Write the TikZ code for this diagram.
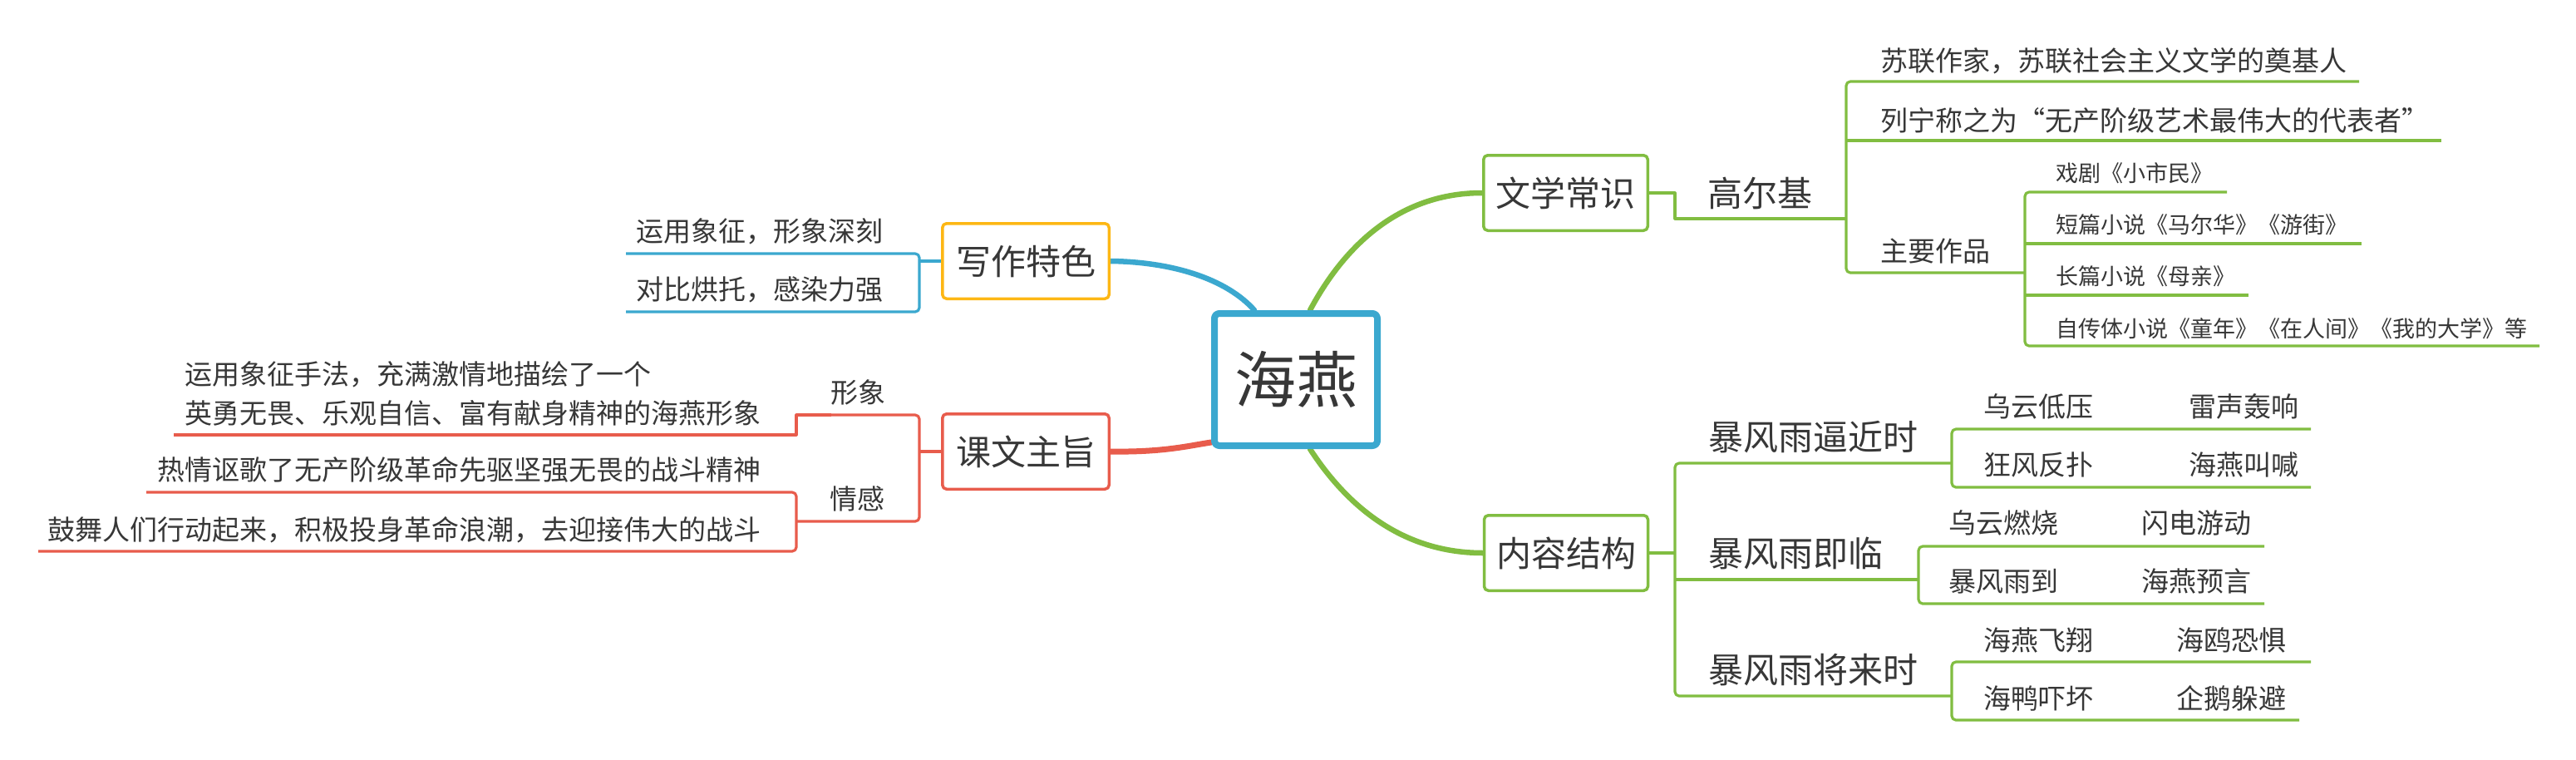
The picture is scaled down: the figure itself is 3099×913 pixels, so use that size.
\documentclass[tikz,border=0pt]{standalone}
\usepackage{fontspec}
\setmainfont{Noto Sans CJK SC}
\usetikzlibrary{backgrounds}
\definecolor{cblue}{RGB}{59,168,207}
\definecolor{corange}{RGB}{253,183,20}
\definecolor{cred}{RGB}{232,92,76}
\definecolor{cgreen}{RGB}{129,189,65}
\definecolor{ctext}{RGB}{55,55,55}
\begin{document}
\begin{tikzpicture}[x=1pt,y=-1pt,line join=round,
  thin/.style={line width=3.2pt,rounded corners=5pt},
  lb/.style={thin,draw=cblue},
  lr/.style={thin,draw=cred},
  lg/.style={thin,draw=cgreen},
  curve/.style={line width=6.5pt,line cap=round},
  tbase/.style={text=ctext,inner sep=0pt,anchor=base west},
  t33/.style={tbase,font=\fontsize{33}{40}\selectfont,yshift=-12.5pt},
  t27/.style={tbase,font=\fontsize{27}{32}\selectfont,yshift=-10.3pt},
  t42/.style={tbase,font=\fontsize{42}{50}\selectfont,yshift=-16pt},
  topbox/.style={draw,line width=3.5pt,rounded corners=5pt,fill=white,
    minimum width=200.5pt,minimum height=90.5pt,inner sep=0pt,
    font=\fontsize{42}{50}\selectfont,text=ctext}]
\useasboundingbox (0,0) rectangle (3099,913);

% main topics
\node[topbox,draw=corange] (xz) at (1234,314) {写作特色};
\node[topbox,draw=cred] (kw) at (1234,543) {课文主旨};
\node[topbox,draw=cgreen,minimum width=197.5pt] (wx) at (1883.5,232) {文学常识};
\node[topbox,draw=cgreen,minimum width=197pt] (nr) at (1884,665) {内容结构};
\node[draw=cblue,line width=8pt,rounded corners=6pt,fill=white,
  minimum width=196pt,minimum height=159pt,inner sep=0pt,
  font=\fontsize{74}{80}\selectfont,text=ctext] (root) at (1559,456.5) {海燕};

\begin{scope}[on background layer]
  \fill[white] (0,0) rectangle (3099,913);
  \draw[curve,cblue] (xz.east) .. controls (1410,315) and (1475,335) .. ([xshift=52pt]root.north west);
  \draw[curve,cred,line width=7pt] (kw.east) .. controls (1400,544) and (1430,536) .. ([yshift=8pt]root.south west);
  \draw[curve,cgreen] (wx.west) .. controls (1680,232) and (1615,300) .. ([xshift=119pt]root.north west);
  \draw[curve,cgreen] (nr.west) .. controls (1680,665) and (1615,600) .. ([xshift=119pt]root.south west);
\end{scope}

% ---- 写作特色 ----
\node[t33] (a1) at (765,278) {运用象征，形象深刻};
\node[t33] (a2) at (765,348) {对比烘托，感染力强};
\draw[lb] (753,305) -- (1106,305) -- (1106,375) -- (753,375);
\draw[lb] (1106,314) -- (xz.west);

% ---- 课文主旨 ----
\draw[lr] (kw.west) -- (1106,543);
\node[t33,anchor=base] (xx) at (1032,472) {形象};
\node[t33,anchor=base] (qg) at (1031,600) {情感};
\draw[lr,sharp corners] (209,523) -- (958,523) -- (958,499) -- (1000,499);
\draw[lr] (990,499) -- (1106,499) -- (1106,627) -- (958,627);
\draw[lr] (176,592) -- (958,592) -- (958,663) -- (46,663);
\node[text=ctext,inner sep=0pt,anchor=west,align=left,
  font=\fontsize{33}{47}\selectfont] (x1) at (222,473.5)
  {运用象征手法，充满激情地描绘了一个\\英勇无畏、乐观自信、富有献身精神的海燕形象};
\node[t33] (q1) at (189,565) {热情讴歌了无产阶级革命先驱坚强无畏的战斗精神};
\node[t33] (q2) at (57,637) {鼓舞人们行动起来，积极投身革命浪潮，去迎接伟大的战斗};

% ---- 文学常识 ----
\draw[lg,sharp corners] (wx.east) -- (2015,232) -- (2015,263) -- (2221,263);
\node[t42] (gej) at (2054,232) {高尔基};
\draw[lg] (2838,98) -- (2221,98) -- (2221,328) -- (2436,328);
\draw[lg] (2221,169) -- (2937,169);
\node[t33] (g1) at (2262,73) {苏联作家，苏联社会主义文学的奠基人};
\node[t33] (g2) at (2262,145) {列宁称之为“无产阶级艺术最伟大的代表者”};
\node[t33] (g3) at (2262,302) {主要作品};
\draw[lg] (2679,231) -- (2436,231) -- (2436,416) -- (3055,416);
\draw[lg] (2436,293) -- (2841,293);
\draw[lg] (2436,355) -- (2705,355);
\node[t27] (w1) at (2473,208) {戏剧《小市民》};
\node[t27] (w2) at (2473,270) {短篇小说《马尔华》《游街》};
\node[t27] (w3) at (2473,332) {长篇小说《母亲》};
\node[t27] (w4) at (2473,395) {自传体小说《童年》《在人间》《我的大学》等};

% ---- 内容结构 ----
\draw[lg] (nr.east) -- (2015,665);
\draw[lg] (2348,557) -- (2015,557) -- (2015,837) -- (2348,837);
\draw[lg] (2015,697) -- (2308,697);
\node[t42] (s1) at (2055,525) {暴风雨逼近时};
\node[t42] (s2) at (2055,665) {暴风雨即临};
\node[t42] (s3) at (2055,805) {暴风雨将来时};
\draw[lg] (2780,516) -- (2348,516) -- (2348,586) -- (2780,586);
\draw[lg] (2724,657) -- (2308,657) -- (2308,726) -- (2724,726);
\draw[lg] (2780,796) -- (2348,796) -- (2348,866) -- (2766,866);
\node[t33] (s11) at (2386,489) {乌云低压\hspace{115pt}雷声轰响};
\node[t33] (s12) at (2386,559) {狂风反扑\hspace{115pt}海燕叫喊};
\node[t33] (s21) at (2344,629) {乌云燃烧\hspace{100pt}闪电游动};
\node[t33] (s22) at (2344,699) {暴风雨到\hspace{100pt}海燕预言};
\node[t33] (s31) at (2386,770) {海燕飞翔\hspace{100pt}海鸥恐惧};
\node[t33] (s32) at (2386,840) {海鸭吓坏\hspace{100pt}企鹅躲避};
\end{tikzpicture}
\end{document}
